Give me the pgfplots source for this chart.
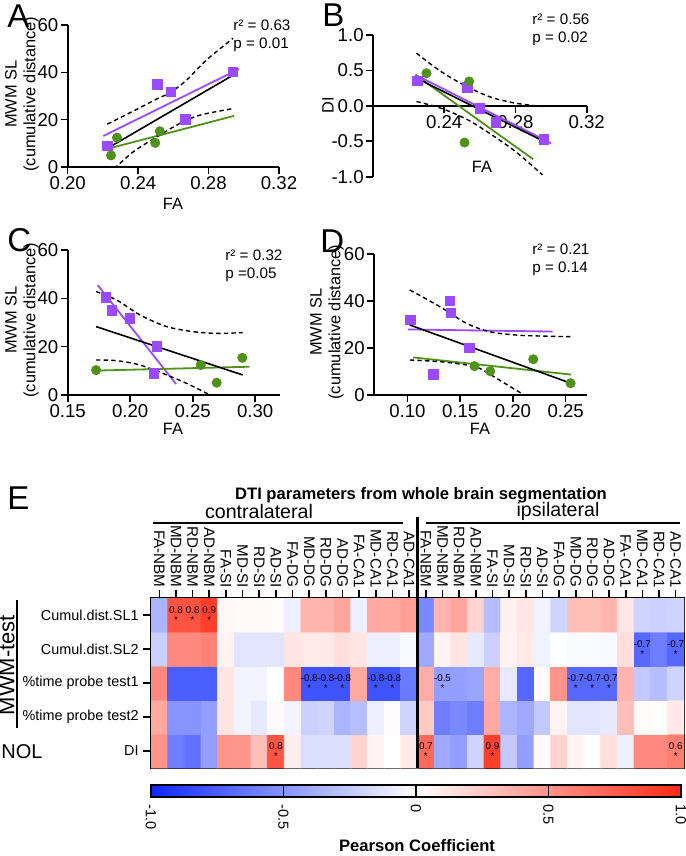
\documentclass[border=0pt]{standalone}
\usepackage{fontspec}
\setmainfont{Liberation Sans}
\usepackage{pgfplots}
\pgfplotsset{compat=1.18}
\definecolor{gppurple}{RGB}{155,75,255}
\definecolor{gpgreen}{RGB}{80,145,25}
\newcommand{\lab}{\fontsize{7.3}{9}\selectfont}
\newcommand{\axl}{\fontsize{8.2}{9.3}\selectfont}
\newcommand{\tkf}{\fontsize{9.3}{11}\selectfont}
\newcommand{\pl}{\fontsize{16.5}{18}\selectfont}
\newcommand{\cv}[3]{\node[font=\fontsize{4.9}{5.4}\selectfont, align=center, inner sep=0pt] at (axis cs:#1,#2) {#3\\*};}
\pgfplotsset{
  colormap={gpbwr}{rgb255=(15,40,255) rgb255=(255,255,255) rgb255=(255,40,20)},
  gp/.style={scale only axis, axis x line*=bottom, axis y line*=left,
    tick align=outside, major tick length=3.5pt,
    tick style={black, line width=0.8pt}, axis line style={line width=0.9pt},
    tick label style={font=\tkf, inner sep=1pt}, clip mode=individual, enlargelimits=false},
  sq/.style={only marks, mark=square*, mark size=2.4pt, color=gppurple},
  dot/.style={only marks, mark=*, mark size=2.3pt, color=gpgreen},
  ci/.style={black, line width=0.7pt, dash pattern=on 2.2pt off 1.6pt, smooth},
  fitp/.style={gppurple, line width=0.9pt},
  fitg/.style={gpgreen, line width=0.9pt},
  fitk/.style={black, line width=0.8pt},
}
\begin{document}
\begin{tikzpicture}[x=0.5pt,y=-0.5pt]
\useasboundingbox (0,0) rectangle (685,856);

% ---- A
\begin{axis}[gp, at={(67.7*0.5pt,-167*0.5pt)}, anchor=south west,
  width=105.65pt, height=71pt, xmin=0.20, xmax=0.32, ymin=0, ymax=60,
  xtick={0.20,0.24,0.28,0.32}, xticklabels={0.20,0.24,0.28,0.32},
  ytick={0,20,40,60}, yticklabels={0,20,40,60}]
\addplot[fitp] coordinates {(0.2202,13.1)(0.2973,41.4)};
\addplot[fitg] coordinates {(0.2217,7.5)(0.2945,21.6)};
\addplot[fitk] coordinates {(0.2217,7.5)(0.2939,38.8)};
\addplot[ci] coordinates {(0.2225,18.1)(0.2372,23.6)(0.2505,28.7)(0.2586,31.6)(0.2675,36.7)(0.2788,45.2)(0.2939,54.4)};
\addplot[ci] coordinates {(0.2265,-0.7)(0.2372,6.4)(0.2505,12.7)(0.2637,18.4)(0.275,21.9)(0.2939,24.7)};
\addplot[sq] coordinates {(0.2227,8.9)(0.251,34.9)(0.2586,31.8)(0.267,20.2)(0.2939,40.1)};
\addplot[dot] coordinates {(0.2246,4.9)(0.228,12.4)(0.2497,10.2)(0.2523,15.1)};
\end{axis}

% ---- B
\begin{axis}[gp, axis x line*=middle, at={(373*0.5pt,-176.7*0.5pt)}, anchor=south west,
  width=106.85pt, height=70.85pt, xmin=0.20, xmax=0.32, ymin=-1, ymax=1,
  xtick={0.24,0.28,0.32}, xticklabels={0.24,0.28,0.32},
  ytick={-1,-0.5,0,0.5,1}, yticklabels={-1.0,-0.5,0.0,0.5,1.0}]
\addplot[fitp] coordinates {(0.2238,0.438)(0.300,-0.527)};
\addplot[fitg] coordinates {(0.2238,0.438)(0.2899,-0.753)};
\addplot[fitk] coordinates {(0.2244,0.39)(0.2962,-0.504)};
\addplot[ci] coordinates {(0.2244,0.744)(0.2381,0.485)(0.2533,0.264)(0.2667,0.118)(0.28,0.038)(0.2952,-0.01)};
\addplot[ci] coordinates {(0.2244,0.061)(0.2381,-0.033)(0.2533,-0.198)(0.2667,-0.409)(0.28,-0.645)(0.2952,-0.974)};
\addplot[sq] coordinates {(0.2248,0.353)(0.253,0.264)(0.260,-0.033)(0.269,-0.235)(0.296,-0.47)};
\addplot[dot] coordinates {(0.230,0.46)(0.254,0.344)(0.2514,-0.518)};
\end{axis}

% ---- C
\begin{axis}[gp, at={(67.7*0.5pt,-395*0.5pt)}, anchor=south west,
  width=106.25pt, height=72.5pt, xmin=0.15, xmax=0.32, ymin=0, ymax=60,
  xtick={0.15,0.20,0.25,0.30}, xticklabels={0.15,0.20,0.25,0.30},
  ytick={0,20,40,60}, yticklabels={0,20,40,60}]
\addplot[fitp] coordinates {(0.174,45.5)(0.2367,4.55)};
\addplot[fitg] coordinates {(0.1727,10.1)(0.2953,11.7)};
\addplot[fitk] coordinates {(0.1727,28.3)(0.290,8.3)};
\addplot[ci] coordinates {(0.1727,42.8)(0.1892,39.3)(0.2079,33.1)(0.2292,28.3)(0.2505,26.2)(0.2692,25.5)(0.29,25.8)};
\addplot[ci] coordinates {(0.1727,14.5)(0.1892,14.2)(0.2079,12.4)(0.2292,8.3)(0.2452,4.8)(0.2612,0.7)(0.265,-0.5)};
\addplot[sq] coordinates {(0.1807,40.3)(0.1852,34.9)(0.1999,31.7)(0.2212,20.0)(0.219,9.0)};
\addplot[dot] coordinates {(0.1727,10.3)(0.2564,12.4)(0.2692,5.1)(0.2897,15.4)};
\end{axis}

% ---- D
\begin{axis}[gp, at={(374*0.5pt,-395*0.5pt)}, anchor=south west,
  width=106.35pt, height=70.5pt, xmin=0.0683, xmax=0.27, ymin=0, ymax=60,
  xtick={0.10,0.15,0.20,0.25}, xticklabels={0.10,0.15,0.20,0.25},
  ytick={0,20,40,60}, yticklabels={0,20,40,60}]
\addplot[fitp] coordinates {(0.1006,27.9)(0.2377,27.0)};
\addplot[fitg] coordinates {(0.1054,16.0)(0.255,8.7)};
\addplot[fitk] coordinates {(0.1022,29.8)(0.255,5.0)};
\addplot[ci] coordinates {(0.1022,44.7)(0.1307,37.6)(0.156,30.5)(0.1782,26.9)(0.2035,25.5)(0.2256,25.1)(0.2557,24.8)};
\addplot[ci] coordinates {(0.1022,14.9)(0.1307,14.2)(0.156,12.8)(0.1687,11.3)(0.1845,7.1)(0.2003,2.8)(0.2108,0)};
\addplot[sq] coordinates {(0.1028,31.9)(0.1402,40.1)(0.1411,35.0)(0.1585,20.1)(0.1244,8.8)};
\addplot[dot] coordinates {(0.1636,12.3)(0.1785,10.1)(0.2193,15.2)(0.2547,5.0)};
\end{axis}

% ---- E heatmap
\begin{axis}[scale only axis, at={(151*0.5pt,-768*0.5pt)}, anchor=south west,
  width=266.5pt, height=85pt, xmin=-0.5, xmax=31.5, ymin=-0.5, ymax=4.5,
  enlargelimits=false, colormap name=gpbwr, point meta min=-1, point meta max=1,
  xtick={0,...,31},
  xticklabels={FA-NBM,MD-NBM,RD-NBM,AD-NBM,FA-SI,MD-SI,RD-SI,AD-SI,FA-DG,MD-DG,RD-DG,AD-DG,FA-CA1,MD-CA1,RD-CA1,AD-CA1,FA-NBM,MD-NBM,RD-NBM,AD-NBM,FA-SI,MD-SI,RD-SI,AD-SI,FA-DG,MD-DG,RD-DG,AD-DG,FA-CA1,MD-CA1,RD-CA1,AD-CA1},
  xtick pos=right, xticklabel pos=right,
  ytick={0,...,4},
  yticklabels={DI,\%time probe test2,\%time probe test1,Cumul.dist.SL2,Cumul.dist.SL1},
  ytick pos=left, tick align=outside, major tick length=4pt,
  tick style={black, line width=0.8pt}, axis line style={line width=1pt},
  xticklabel style={rotate=-90, anchor=east, font=\fontsize{7.6}{9}\selectfont, inner sep=1pt},
  yticklabel style={font=\fontsize{7.2}{9}\selectfont, inner sep=2pt},
  colorbar horizontal,
  colorbar style={scale only axis, at={(parent axis.south west)}, anchor=north west,
    yshift=0pt, width=265pt, height=6pt,
    xtick={-1,-0.5,0,0.5,1}, xticklabels={-1.0,-0.5,0,0.5,1.0},
    xticklabel style={rotate=-90, anchor=west, font=\lab},
    xtick pos=left, tick align=inside, major tick length=6pt,
    tick style={black, line width=0.6pt}, axis line style={line width=0.8pt}}]
\addplot[matrix plot*, mesh/cols=32, point meta=explicit] coordinates {
(0,0)[0.5] (1,0)[-0.6] (2,0)[-0.65] (3,0)[-0.45] (4,0)[0.5] (5,0)[0.5] (6,0)[0.3] (7,0)[0.8] (8,0)[0.08] (9,0)[-0.15] (10,0)[-0.15] (11,0)[-0.15] (12,0)[0.2] (13,0)[0.05] (14,0)[0] (15,0)[0.1] (16,0)[0.7] (17,0)[-0.4] (18,0)[-0.45] (19,0)[-0.2] (20,0)[0.9] (21,0)[-0.25] (22,0)[-0.45] (23,0)[0.03] (24,0)[0.2] (25,0)[0.05] (26,0)[0] (27,0)[0.15] (28,0)[-0.07] (29,0)[0.55] (30,0)[0.55] (31,0)[0.6]

(0,1)[0.4] (1,1)[-0.5] (2,1)[-0.5] (3,1)[-0.45] (4,1)[0.12] (5,1)[-0.05] (6,1)[-0.1] (7,1)[0.02] (8,1)[-0.05] (9,1)[-0.22] (10,1)[-0.2] (11,1)[-0.35] (12,1)[-0.3] (13,1)[-0.07] (14,1)[0.02] (15,1)[-0.2] (16,1)[0.25] (17,1)[-0.6] (18,1)[-0.55] (19,1)[-0.6] (20,1)[0.4] (21,1)[-0.35] (22,1)[-0.4] (23,1)[-0.25] (24,1)[0.05] (25,1)[-0.12] (26,1)[-0.12] (27,1)[-0.1] (28,1)[0.3] (29,1)[0.02] (30,1)[0] (31,1)[0.1]

(0,2)[0.55] (1,2)[-0.75] (2,2)[-0.75] (3,2)[-0.75] (4,2)[0.12] (5,2)[-0.05] (6,2)[-0.05] (7,2)[0] (8,2)[0.55] (9,2)[-0.8] (10,2)[-0.8] (11,2)[-0.8] (12,2)[0.4] (13,2)[-0.8] (14,2)[-0.8] (15,2)[-0.62] (16,2)[0.38] (17,2)[-0.45] (18,2)[-0.45] (19,2)[-0.42] (20,2)[0.38] (21,2)[-0.1] (22,2)[-0.7] (23,2)[0.02] (24,2)[0.5] (25,2)[-0.7] (26,2)[-0.7] (27,2)[-0.7] (28,2)[0.35] (29,2)[-0.25] (30,2)[-0.3] (31,2)[-0.2]

(0,3)[-0.22] (1,3)[0.55] (2,3)[0.55] (3,3)[0.58] (4,3)[0.05] (5,3)[-0.12] (6,3)[-0.12] (7,3)[-0.12] (8,3)[0.12] (9,3)[0.1] (10,3)[0.1] (11,3)[0.15] (12,3)[0.12] (13,3)[-0.07] (14,3)[-0.07] (15,3)[-0.03] (16,3)[-0.4] (17,3)[0.05] (18,3)[0.12] (19,3)[-0.1] (20,3)[-0.22] (21,3)[0.05] (22,3)[0.1] (23,3)[-0.06] (24,3)[0] (25,3)[-0.02] (26,3)[-0.02] (27,3)[-0.03] (28,3)[0.15] (29,3)[-0.7] (30,3)[-0.6] (31,3)[-0.7]

(0,4)[-0.35] (1,4)[0.8] (2,4)[0.8] (3,4)[0.9] (4,4)[0.04] (5,4)[0.03] (6,4)[0.03] (7,4)[0.02] (8,4)[-0.07] (9,4)[0.35] (10,4)[0.35] (11,4)[0.42] (12,4)[-0.07] (13,4)[0.4] (14,4)[0.4] (15,4)[0.45] (16,4)[-0.55] (17,4)[0.35] (18,4)[0.42] (19,4)[0.2] (20,4)[-0.3] (21,4)[0.07] (22,4)[0.12] (23,4)[-0.06] (24,4)[-0.2] (25,4)[0.3] (26,4)[0.3] (27,4)[0.35] (28,4)[0.12] (29,4)[-0.2] (30,4)[-0.22] (31,4)[-0.2]
};
\cv{1}{4}{0.8}\cv{2}{4}{0.8}\cv{3}{4}{0.9}
\cv{29}{3}{-0.7}\cv{31}{3}{-0.7}
\cv{9}{2}{-0.8}\cv{10}{2}{-0.8}\cv{11}{2}{-0.8}\cv{13}{2}{-0.8}\cv{14}{2}{-0.8}
\cv{17}{2}{-0.5}\cv{25}{2}{-0.7}\cv{26}{2}{-0.7}\cv{27}{2}{-0.7}
\cv{7}{0}{0.8}\cv{16}{0}{0.7}\cv{20}{0}{0.9}\cv{31}{0}{0.6}
\end{axis}

% ---- labels and annotations
\node[font=\pl, anchor=north west, inner sep=0pt] at (7,4) {A};
\node[font=\pl, anchor=north west, inner sep=0pt] at (322,3) {B};
\node[font=\pl, anchor=north west, inner sep=0pt] at (7,228) {C};
\node[font=\pl, anchor=north west, inner sep=0pt] at (320,229) {D};
\node[font=\pl, anchor=north west, inner sep=0pt] at (7,486) {E};

\node[font=\axl, rotate=90, align=center] at (22,94) {MWM SL\\(cumulative distance)};
\node[font=\axl, rotate=90, align=center] at (22,320) {MWM SL\\(cumulative distance)};
\node[font=\axl, rotate=90, align=center] at (327,322) {MWM SL\\(cumulative distance)};
\node[font=\axl, rotate=90] at (328,105) {DI};
\node[font=\axl] at (173,204) {FA};
\node[font=\axl] at (482,167) {FA};
\node[font=\axl] at (173,429) {FA};
\node[font=\axl] at (480,429) {FA};

\node[font=\fontsize{7.6}{9}\selectfont, anchor=north west, align=left, inner sep=0pt] at (233,19) {r² = 0.63\\p = 0.01};
\node[font=\fontsize{7.6}{9}\selectfont, anchor=north west, align=left, inner sep=0pt] at (532,13) {r² = 0.56\\p = 0.02};
\node[font=\fontsize{7.6}{9}\selectfont, anchor=north west, align=left, inner sep=0pt] at (225,249) {r² = 0.32\\p =0.05};
\node[font=\fontsize{7.6}{9}\selectfont, anchor=north west, align=left, inner sep=0pt] at (532,243) {r² = 0.21\\p = 0.14};

\node[font=\fontsize{8.3}{10}\selectfont\bfseries] at (421,495) {DTI parameters from whole brain segmentation};
\node[font=\fontsize{9.8}{11}\selectfont] at (259,511) {contralateral};
\node[font=\fontsize{9.8}{11}\selectfont] at (558,511) {ipsilateral};
\draw[line width=0.8pt] (153,523) -- (403,523);
\draw[line width=0.8pt] (426,523) -- (680,523);
\draw[line width=1.2pt] (417.5,517) -- (417.5,768);
\node[font=\fontsize{11}{12}\selectfont, rotate=90] at (7,665) {MWM-test};
\draw[line width=0.8pt] (17,600) -- (17,728);
\node[font=\fontsize{10}{12}\selectfont] at (22,752) {NOL};
\node[font=\fontsize{8.3}{10}\selectfont\bfseries] at (417,846) {Pearson Coefficient};
\end{tikzpicture}
\end{document}
